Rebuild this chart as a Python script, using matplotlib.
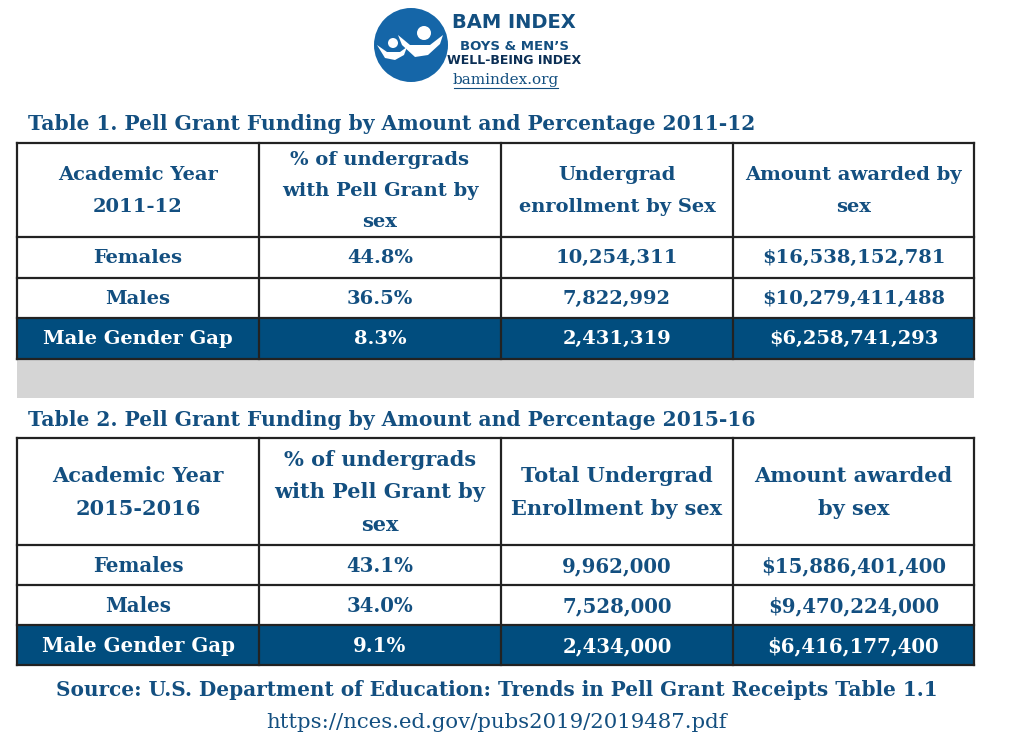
import matplotlib
matplotlib.use("Agg")
import matplotlib.pyplot as plt
from matplotlib.patches import Rectangle, Circle, Polygon

BLUE = "#134f80"
FILL = "#014d7e"
GRAY = "#d5d5d5"

title1 = "Table 1. Pell Grant Funding by Amount and Percentage 2011-12"
title2 = "Table 2. Pell Grant Funding by Amount and Percentage 2015-16"

header1 = ["Academic Year\n2011-12", "% of undergrads\nwith Pell Grant by\nsex",
           "Undergrad\nenrollment by Sex", "Amount awarded by\nsex"]
header2 = ["Academic Year\n2015-2016", "% of undergrads\nwith Pell Grant by\nsex",
           "Total Undergrad\nEnrollment by sex", "Amount awarded\nby sex"]

row_labels = ["Females", "Males", "Male Gender Gap"]

pct_2011 = ["44.8%", "36.5%", "8.3%"]
enroll_2011 = ["10,254,311", "7,822,992", "2,431,319"]
amount_2011 = ["$16,538,152,781", "$10,279,411,488", "$6,258,741,293"]

pct_2016 = ["43.1%", "34.0%", "9.1%"]
enroll_2016 = ["9,962,000", "7,528,000", "2,434,000"]
amount_2016 = ["$15,886,401,400", "$9,470,224,000", "$6,416,177,400"]

source = "Source: U.S. Department of Education: Trends in Pell Grant Receipts Table 1.1"
url = "https://nces.ed.gov/pubs2019/2019487.pdf"

SERIF = ["DejaVu Serif"]

fig = plt.figure(figsize=(10.24, 7.45), dpi=100)
ax = fig.add_axes([0, 0, 1, 1])
ax.set_xlim(0, 1024)
ax.set_ylim(745, 0)
ax.axis("off")

cols = [17, 259, 501, 733, 974]


def draw_table(top, hdr_bottom, row_h, header, cols_data, hdr_fs, hdr_ls, body_fs):
    rows_y = [hdr_bottom + i * row_h for i in range(4)]
    bottom = rows_y[-1]
    ax.add_patch(Rectangle((cols[0], rows_y[2]), cols[-1] - cols[0], row_h,
                           facecolor=FILL, edgecolor="none", zorder=1))
    for x in cols:
        ax.plot([x, x], [top, bottom], color="#222222", lw=1.6, zorder=2)
    for y in [top] + rows_y:
        ax.plot([cols[0], cols[-1]], [y, y], color="#222222", lw=1.6, zorder=2)
    for j, h in enumerate(header):
        cx = (cols[j] + cols[j + 1]) / 2
        ax.text(cx, (top + hdr_bottom) / 2 + 1, h, ha="center", va="center",
                fontsize=hdr_fs, fontweight="bold", color=BLUE, family=SERIF,
                linespacing=hdr_ls, zorder=3)
    for i in range(3):
        cy = rows_y[i] + row_h / 2 + 1
        color = "white" if i == 2 else BLUE
        values = [row_labels[i]] + [c[i] for c in cols_data]
        for j, v in enumerate(values):
            cx = (cols[j] + cols[j + 1]) / 2
            ax.text(cx, cy, v, ha="center", va="center", fontsize=body_fs,
                    fontweight="bold", color=color, family=SERIF, zorder=3)


# Logo
ax.add_patch(Circle((411, 45), 37, facecolor="#1566a8", edgecolor="none"))
ax.add_patch(Circle((424, 33), 7, facecolor="white", edgecolor="none"))
ax.add_patch(Circle((393, 43), 5, facecolor="white", edgecolor="none"))
ax.add_patch(Polygon([(398, 35), (410, 45), (430, 45), (443, 35), (440, 44),
                      (428, 55), (415, 57), (402, 45)], closed=True,
                     facecolor="white", edgecolor="none"))
ax.add_patch(Polygon([(377, 45), (387, 52), (400, 52), (407, 47), (404, 55),
                      (395, 60), (385, 58)], closed=True,
                     facecolor="white", edgecolor="none"))
ax.text(514, 22, "BAM INDEX", ha="center", va="center", fontsize=14,
        fontweight="bold", color=BLUE, family=["DejaVu Sans"])
ax.text(514, 46, "BOYS & MEN\u2019S", ha="center", va="center", fontsize=9.5,
        fontweight="bold", color=BLUE, family=["DejaVu Sans"])
ax.text(514, 61, "WELL-BEING INDEX", ha="center", va="center", fontsize=9,
        fontweight="bold", color="#0b2f55", family=["DejaVu Sans"])
ax.text(506, 80, "bamindex.org", ha="center", va="center", fontsize=11,
        color=BLUE, family=SERIF)
ax.plot([454, 558], [88, 88], color=BLUE, lw=0.8)

# Table 1
ax.text(28, 124, title1, ha="left", va="center", fontsize=14.6,
        fontweight="bold", color=BLUE, family=SERIF)
draw_table(143, 237, 40.5, header1, [pct_2011, enroll_2011, amount_2011],
           14, 1.95, 14)

# gray band
ax.add_patch(Rectangle((17, 359), 957, 39, facecolor=GRAY, edgecolor="none"))

# Table 2
ax.text(28, 420, title2, ha="left", va="center", fontsize=14.6,
        fontweight="bold", color=BLUE, family=SERIF)
draw_table(438, 545, 40, header2, [pct_2016, enroll_2016, amount_2016],
           15, 1.8, 14.2)

ax.text(497, 690, source, ha="center", va="center", fontsize=14.4,
        fontweight="bold", color=BLUE, family=SERIF)
ax.text(497, 723, url, ha="center", va="center", fontsize=15.3,
        color=BLUE, family=SERIF)

fig.savefig("out.png", dpi=100)
